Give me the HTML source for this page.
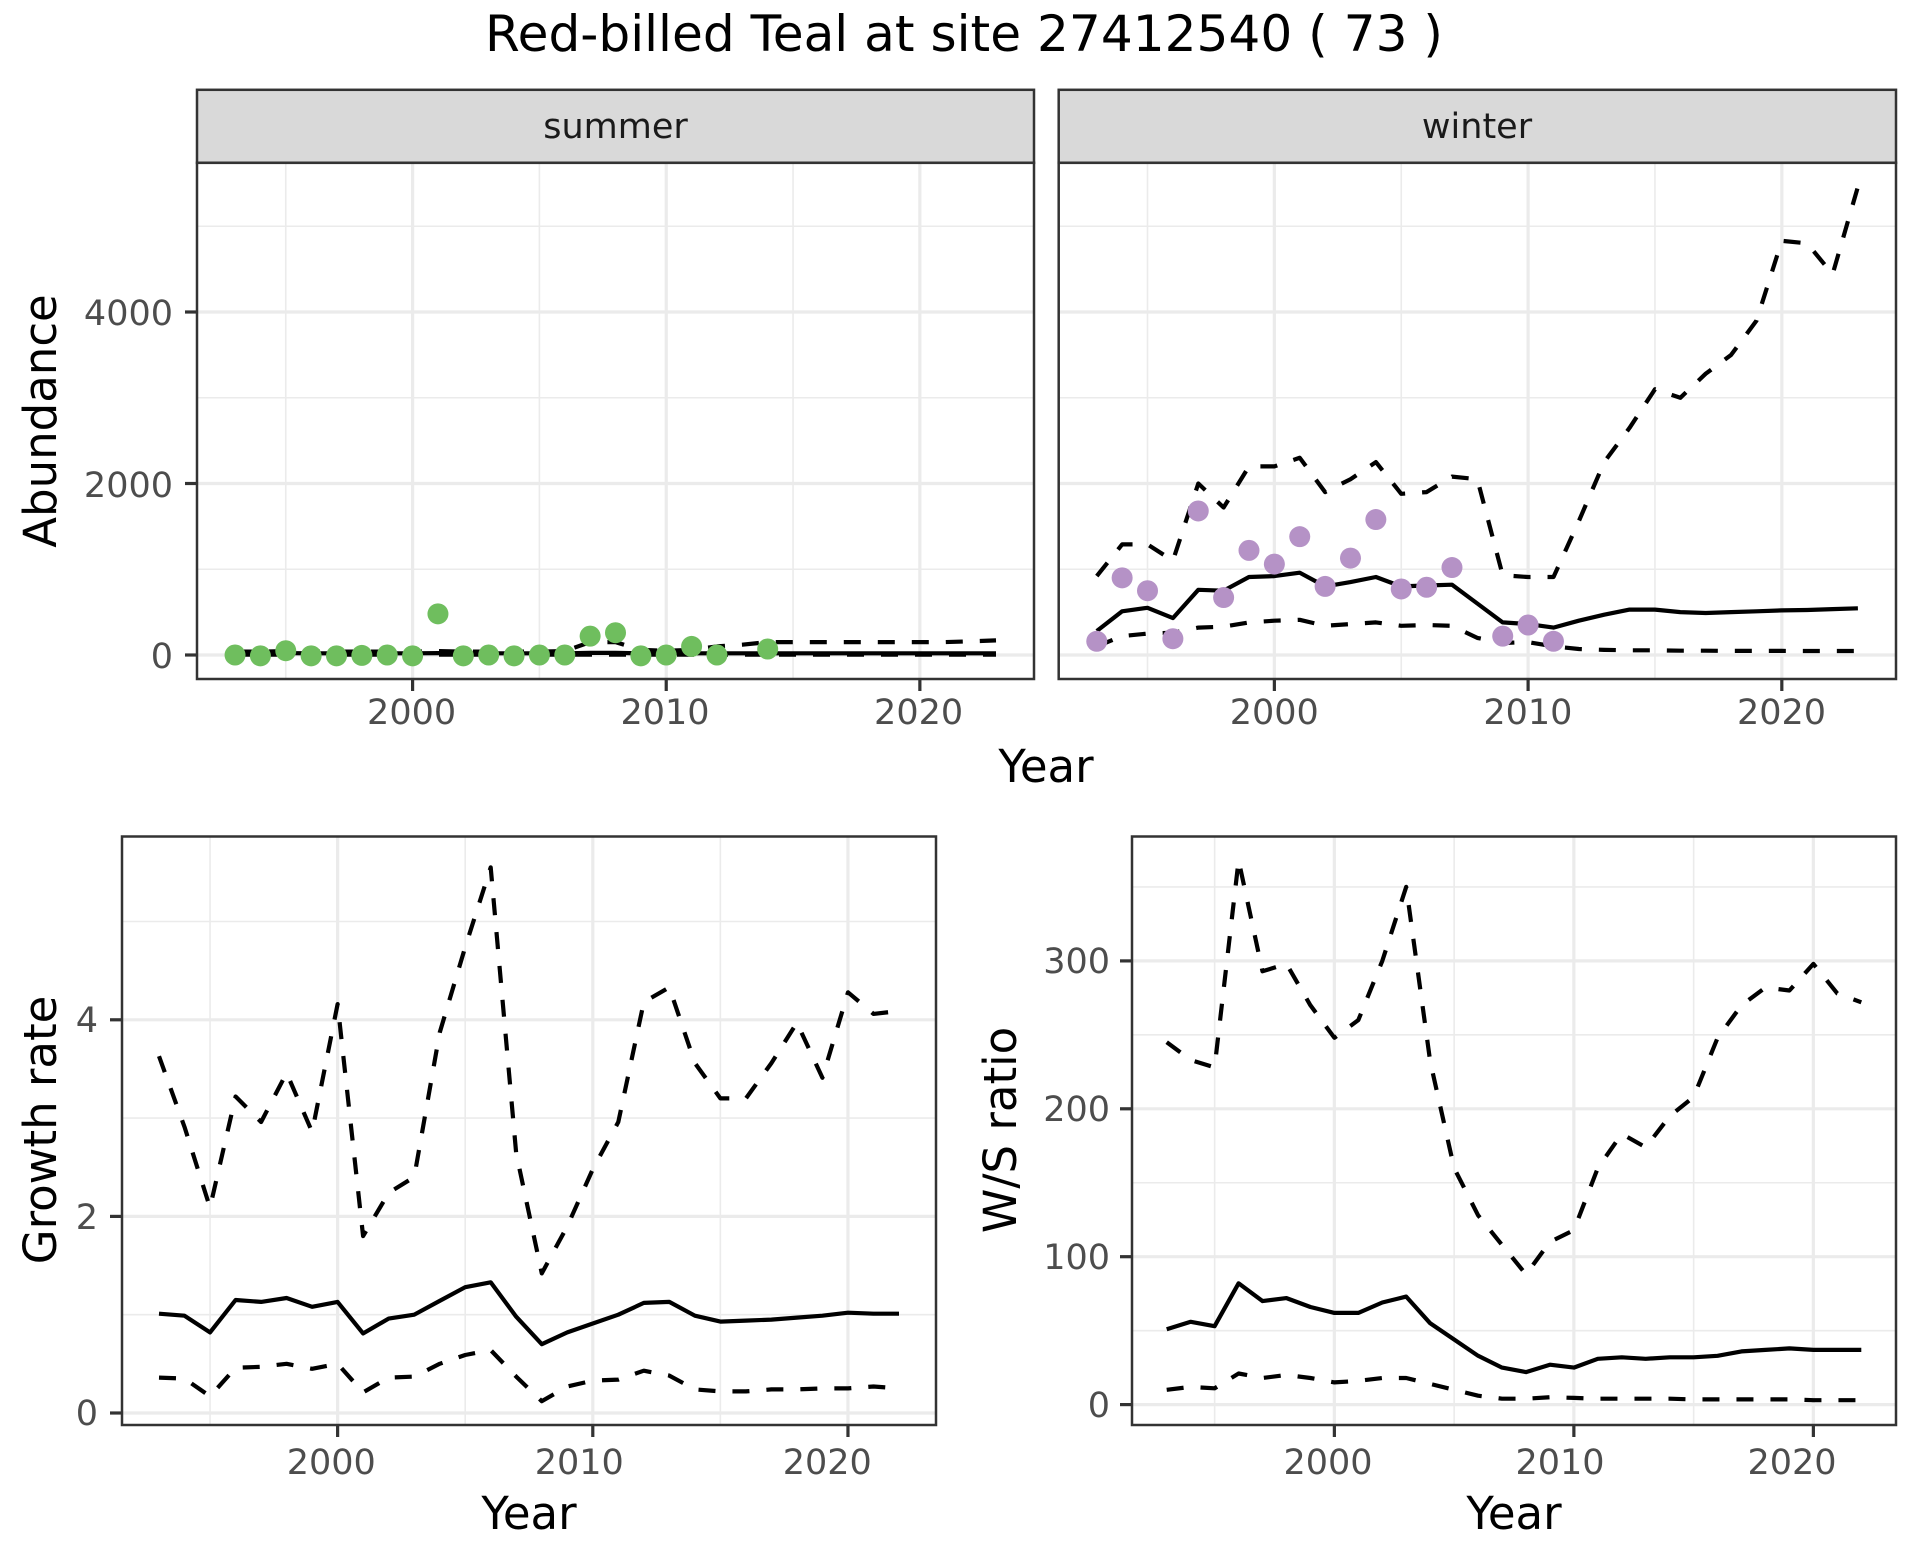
<!DOCTYPE html>
<html><head><meta charset="utf-8"><style>
html,body{margin:0;padding:0;background:#fff;}
svg{display:block;font-family:"DejaVu Sans","Liberation Sans",sans-serif;}
</style></head><body>
<svg id="s" width="1920" height="1560" viewBox="0 0 1920 1560" xmlns="http://www.w3.org/2000/svg">
<rect width="1920" height="1560" fill="#fff"/>
<g id="grid"></g>
<g id="data"></g>
<text x="964" y="51" font-size="50" text-anchor="middle" fill="#000" textLength="958" lengthAdjust="spacingAndGlyphs">Red-billed Teal at site 27412540 ( 73 )</text>
<rect x="197" y="89.8" width="837" height="73" fill="#d9d9d9" stroke="#333" stroke-width="2.5"/>
<rect x="1058.7" y="89.8" width="837.3" height="73" fill="#d9d9d9" stroke="#333" stroke-width="2.5"/>
<text x="615.5" y="138" font-size="35" text-anchor="middle" fill="#1a1a1a">summer</text>
<text x="1477" y="138" font-size="35" text-anchor="middle" fill="#1a1a1a">winter</text>
<g font-size="35" fill="#4d4d4d">
<text x="173" y="668" text-anchor="end">0</text>
<text x="173" y="497" text-anchor="end">2000</text>
<text x="173" y="325" text-anchor="end">4000</text>
<text x="411.6" y="724" text-anchor="middle">2000</text>
<text x="665" y="724" text-anchor="middle">2010</text>
<text x="918.6" y="724" text-anchor="middle">2020</text>
<text x="1274.3" y="724" text-anchor="middle">2000</text>
<text x="1527.9" y="724" text-anchor="middle">2010</text>
<text x="1781.5" y="724" text-anchor="middle">2020</text>
<text x="98" y="1425" text-anchor="end">0</text>
<text x="98" y="1229" text-anchor="end">2</text>
<text x="98" y="1032" text-anchor="end">4</text>
<text x="331.3" y="1474" text-anchor="middle">2000</text>
<text x="579.3" y="1474" text-anchor="middle">2010</text>
<text x="827.3" y="1474" text-anchor="middle">2020</text>
<text x="1110" y="1417" text-anchor="end">0</text>
<text x="1110" y="1269" text-anchor="end">100</text>
<text x="1110" y="1121" text-anchor="end">200</text>
<text x="1110" y="973" text-anchor="end">300</text>
<text x="1328" y="1474" text-anchor="middle">2000</text>
<text x="1560" y="1474" text-anchor="middle">2010</text>
<text x="1792" y="1474" text-anchor="middle">2020</text>
</g>
<g font-size="45" fill="#000">
<text x="1046" y="782" text-anchor="middle">Year</text>
<text x="529" y="1529" text-anchor="middle">Year</text>
<text x="1514" y="1529" text-anchor="middle">Year</text>
<text transform="translate(56,421) rotate(-90)" text-anchor="middle">Abundance</text>
<text transform="translate(56,1130) rotate(-90)" text-anchor="middle">Growth rate</text>
<text transform="translate(1016,1130) rotate(-90)" text-anchor="middle">W/S ratio</text>
</g>
<g id="frames"></g>
</svg>
<script>
var NS="http://www.w3.org/2000/svg";
function el(p,t,a){var e=document.createElementNS(NS,t);for(var k in a)e.setAttribute(k,a[k]);document.getElementById(p).appendChild(e);return e;}
function panel(P){
  P.fx=function(t){return P.x0+(t-P.t0)*(P.x1-P.x0)/(P.t1-P.t0);};
  P.fy=function(v){return P.yz-v*P.k;};
  el('grid','rect',{x:P.x0,y:P.y0,width:P.x1-P.x0,height:P.y1-P.y0,fill:'#fff'});
  P.minX.forEach(function(t){el('grid','line',{x1:P.fx(t),x2:P.fx(t),y1:P.y0,y2:P.y1,stroke:'#ebebeb','stroke-width':1.6});});
  P.minY.forEach(function(v){el('grid','line',{y1:P.fy(v),y2:P.fy(v),x1:P.x0,x2:P.x1,stroke:'#ebebeb','stroke-width':1.6});});
  P.majX.forEach(function(t){el('grid','line',{x1:P.fx(t),x2:P.fx(t),y1:P.y0,y2:P.y1,stroke:'#ebebeb','stroke-width':3.2});
    el('frames','line',{x1:P.fx(t),x2:P.fx(t),y1:P.y1,y2:P.y1+12,stroke:'#333','stroke-width':3.2});});
  P.majY.forEach(function(v){el('grid','line',{y1:P.fy(v),y2:P.fy(v),x1:P.x0,x2:P.x1,stroke:'#ebebeb','stroke-width':3.2});
    if(P.ticks)el('frames','line',{y1:P.fy(v),y2:P.fy(v),x1:P.x0-12,x2:P.x0,stroke:'#333','stroke-width':3.2});});
  el('frames','rect',{x:P.x0,y:P.y0,width:P.x1-P.x0,height:P.y1-P.y0,fill:'none',stroke:'#333','stroke-width':2.5});
  return P;
}
function line(P,t0,vals,dash){
  var d='';vals.forEach(function(v,i){d+=(i?'L':'M')+P.fx(t0+i).toFixed(1)+' '+P.fy(v).toFixed(1);});
  var a={d:d,fill:'none',stroke:'#000','stroke-width':4.2,'stroke-linejoin':'round'};
  if(dash)a['stroke-dasharray']='17 17';
  el('data','path',a);
}
function pts(P,arr,col){arr.forEach(function(p){el('data','circle',{cx:P.fx(p[0]),cy:P.fy(p[1]),r:10.5,fill:col});});}

var S=panel({x0:197,x1:1034,y0:162.8,y1:679,t0:1991.5,t1:2024.5,yz:655,k:0.08575,majX:[2000,2010,2020],minX:[1995,2005,2015],majY:[0,2000,4000],minY:[1000,3000,5000],ticks:true});
var W=panel({x0:1058.7,x1:1896,y0:162.8,y1:679,t0:1991.5,t1:2024.5,yz:655,k:0.08575,majX:[2000,2010,2020],minX:[1995,2005,2015],majY:[0,2000,4000],minY:[1000,3000,5000],ticks:false});
var G=panel({x0:122,x1:936,y0:836.5,y1:1425,t0:1991.55,t1:2023.45,yz:1413,k:98.3,majX:[2000,2010,2020],minX:[1995,2005,2015],majY:[0,2,4],minY:[1,3,5],ticks:true});
var R=panel({x0:1132,x1:1896,y0:836.5,y1:1425,t0:1991.55,t1:2023.45,yz:1404.6,k:1.479,majX:[2000,2010,2020],minX:[1995,2005,2015],majY:[0,100,200,300],minY:[50,150,250,350],ticks:true});

line(S,1993,[5,5,5,5,5,5,5,5,5,5,5,5,5,5,5,5,5,5,5,5,5,5,5,5,5,5,5,5,5,5,5],true);
line(S,1993,[20,20,22,20,20,20,20,20,22,20,20,20,20,20,25,25,20,20,20,20,20,20,20,20,20,20,20,20,20,20,20],false);
line(S,1993,[40,40,45,40,40,40,40,40,45,40,40,40,40,45,150,150,60,50,60,100,120,150,150,150,150,150,150,150,150,160,170],true);
pts(S,[[1993,0],[1994,-10],[1995,50],[1996,-10],[1997,-10],[1998,-5],[1999,0],[2000,-10],[2001,480],[2002,-10],[2003,0],[2004,-10],[2005,0],[2006,0],[2007,220],[2008,260],[2009,-10],[2010,0],[2011,100],[2012,0],[2014,70]],'#6fbe5e');
line(W,1993,[280,510,550,430,760,750,910,920,960,800,850,910,800,810,820,600,380,360,320,400,470,530,530,500,490,500,510,520,525,535,545],false);
line(W,1993,[920,1290,1290,1100,2000,1720,2200,2200,2300,1900,2050,2250,1880,1900,2080,2050,930,910,910,1560,2250,2650,3100,3000,3280,3500,3900,4830,4800,4440,5460],true);
line(W,1993,[100,220,250,260,320,330,380,400,410,340,360,380,340,350,340,200,140,150,100,70,60,55,55,50,50,48,48,48,47,47,47],true);
pts(W,[[1993,160],[1994,900],[1995,750],[1996,190],[1997,1680],[1998,670],[1999,1220],[2000,1060],[2001,1380],[2002,800],[2003,1130],[2004,1580],[2005,770],[2006,790],[2007,1020],[2009,220],[2010,350],[2011,160]],'#b592c6');
line(G,1993,[1.01,0.99,0.82,1.15,1.13,1.17,1.08,1.13,0.81,0.96,1.0,1.14,1.28,1.33,0.98,0.70,0.82,0.91,1.0,1.12,1.13,0.99,0.93,0.94,0.95,0.97,0.99,1.02,1.01,1.01],false);
line(G,1993,[3.63,2.91,2.09,3.22,2.96,3.46,2.86,4.16,1.8,2.24,2.4,3.87,4.74,5.55,2.64,1.42,1.9,2.48,2.96,4.18,4.33,3.56,3.2,3.2,3.56,3.97,3.41,4.28,4.06,4.09],true);
line(G,1993,[0.36,0.35,0.17,0.46,0.47,0.5,0.45,0.5,0.21,0.36,0.37,0.5,0.59,0.64,0.37,0.12,0.27,0.33,0.34,0.43,0.38,0.24,0.22,0.22,0.24,0.24,0.25,0.25,0.27,0.25],true);
line(R,1993,[51,56,53,82,70,72,66,62,62,69,73,55,44,33,25,22,27,25,31,32,31,32,32,33,36,37,38,37,37,37],false);
line(R,1993,[245,233,228,368,293,298,270,248,260,300,350,232,160,128,108,88,110,118,160,183,174,195,208,248,270,282,280,298,278,272],true);
line(R,1993,[10,12,11,21,18,20,18,15,16,18,18,14,10,6,4,4,5,4.5,4,4,4,4,3.5,3.5,3.5,3.5,3.5,3,3,3],true);
</script>
</body></html>
